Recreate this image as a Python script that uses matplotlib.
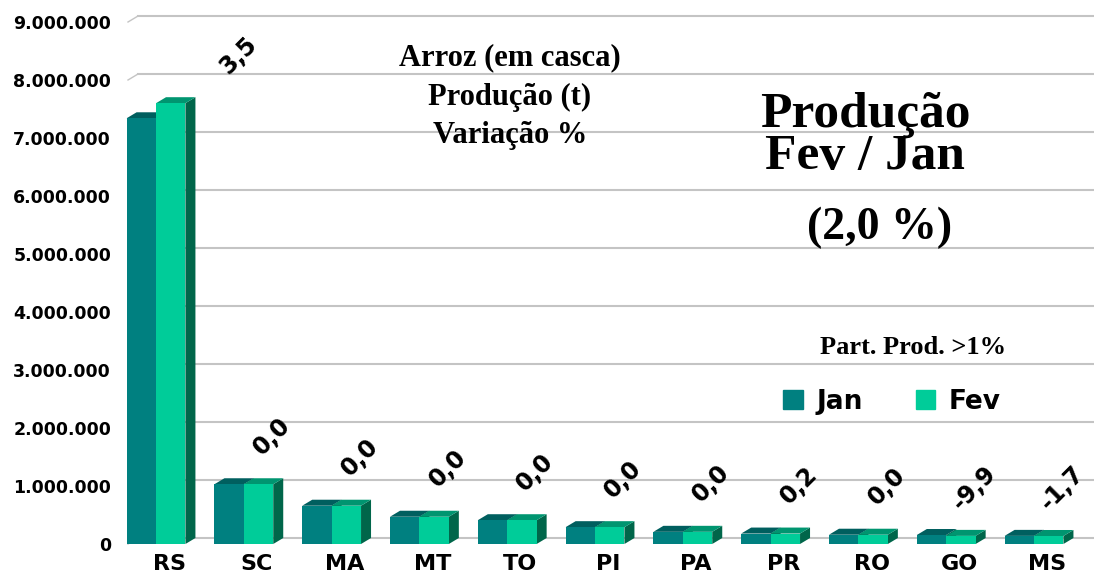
import numpy as np
import matplotlib.pyplot as plt
from matplotlib.patches import Polygon, Patch
from matplotlib.ticker import FuncFormatter

# data
states = ['RS', 'SC', 'MA', 'MT', 'TO', 'PI', 'PA', 'PR', 'RO', 'GO', 'MS']
jan = [7340000, 1030000, 660000, 470000, 410000, 290000, 210000, 180000, 160000, 155000, 140000]
fev = [7600000, 1030000, 660000, 470000, 410000, 290000, 210000, 180000, 160000, 140000, 138000]
var = ['3,5', '0,0', '0,0', '0,0', '0,0', '0,0', '0,0', '0,2', '0,0', '-9,9', '-1,7']

c_jan, c_jan_top = '#008080', '#005f5f'
c_fev, c_fev_top, c_side = '#00cc99', '#009570', '#00664a'

W, H, DPI = 10.94, 5.76, 100
fig = plt.figure(figsize=(W, H), dpi=DPI)
ax = fig.add_axes([118/1094, 32/576, 976/1094, 539.4/576])
xlim = (-0.433, 10.683)
ylim = (0, 9300000)
ax.set_xlim(*xlim)
ax.set_ylim(*ylim)

# pixel -> data unit conversion for the fake 3d depth
px_x = (xlim[1]-xlim[0]) / 976
px_y = (ylim[1]-ylim[0]) / 539.4
dx, dy = 10*px_x, 6*px_y

# back wall gridlines
xl = -0.319
for v in range(0, 10000000, 1000000):
    ax.plot([xl+dx, xlim[1]], [v+dy, v+dy], color='#c4c4c4', lw=1.5, zorder=1, clip_on=False)
    ax.plot([xl, xl+dx], [v, v+dy], color='#c4c4c4', lw=1.0, zorder=1, clip_on=False)

bw = 0.335
x = np.arange(len(states))
for i in x:
    hj, hf = jan[i], fev[i]
    # jan bar
    ax.add_patch(Polygon([(i, 0), (i+dx, dy), (i+dx, hj+dy), (i, hj)], color=c_side, zorder=2, lw=0))
    ax.add_patch(Polygon([(i-bw, hj), (i, hj), (i+dx, hj+dy), (i-bw+dx, hj+dy)], color=c_jan_top, zorder=2, lw=0))
    # fev bar
    ax.add_patch(Polygon([(i+bw, 0), (i+bw+dx, dy), (i+bw+dx, hf+dy), (i+bw, hf)], color=c_side, zorder=3, lw=0))
    ax.add_patch(Polygon([(i, hf), (i+bw, hf), (i+bw+dx, hf+dy), (i+dx, hf+dy)], color=c_fev_top, zorder=3, lw=0))
ax.bar(x-bw/2, jan, width=bw, color=c_jan, zorder=2, lw=0)
ax.bar(x+bw/2, fev, width=bw, color=c_fev, zorder=3, lw=0)

# variation labels, rotated
for i in x:
    shift = 54 if i == 0 else 0
    ax.annotate(var[i], (i, fev[i]), xytext=(28+shift, 48), textcoords='offset pixels',
                rotation=45, ha='center', va='center', fontsize=17, fontweight='bold',
                family='DejaVu Sans', zorder=5, annotation_clip=False)

ax.set_yticks(range(0, 10000000, 1000000))
ax.yaxis.set_major_formatter(FuncFormatter(lambda v, p: f'{int(v):,}'.replace(',', '.')))
ax.set_xticks(x + 0.15)
ax.set_xticklabels(states)
ax.tick_params(axis='y', length=0, pad=5, labelsize=12.5)
ax.tick_params(axis='x', length=0, pad=7, labelsize=16)
for t in ax.get_yticklabels() + ax.get_xticklabels():
    t.set_fontweight('bold')
for s in ax.spines.values():
    s.set_visible(False)
ax.patch.set_alpha(0)

# titles
serif = 'Liberation Serif'
fig.text(510/1094, 1-58/576, 'Arroz (em casca)', ha='center', va='center', family=serif, fontweight='bold', fontsize=22)
fig.text(510/1094, 1-97/576, 'Produção (t)', ha='center', va='center', family=serif, fontweight='bold', fontsize=22)
fig.text(510/1094, 1-135/576, 'Variação %', ha='center', va='center', family=serif, fontweight='bold', fontsize=22)
fig.text(865/1094, 1-115/576, 'Produção', ha='center', va='center', family=serif, fontweight='bold', fontsize=37)
fig.text(865/1094, 1-157/576, 'Fev / Jan', ha='center', va='center', family=serif, fontweight='bold', fontsize=37)
fig.text(880/1094, 1-228/576, '(2,0 %)', ha='center', va='center', family=serif, fontweight='bold', fontsize=33)
fig.text(913/1094, 1-347/576, 'Part. Prod. >1%', ha='center', va='center', family=serif, fontweight='bold', fontsize=19)

handles = [Patch(color=c_jan, label='Jan'), Patch(color=c_fev, label='Fev')]
fig.legend(handles=handles, loc='center', bbox_to_anchor=(892/1094, 1-402/576), ncol=2, frameon=False,
           handlelength=0.75, handleheight=0.75, columnspacing=2.0, handletextpad=0.5,
           prop={'weight': 'bold', 'size': 19})

fig.savefig('out.png', dpi=DPI)
